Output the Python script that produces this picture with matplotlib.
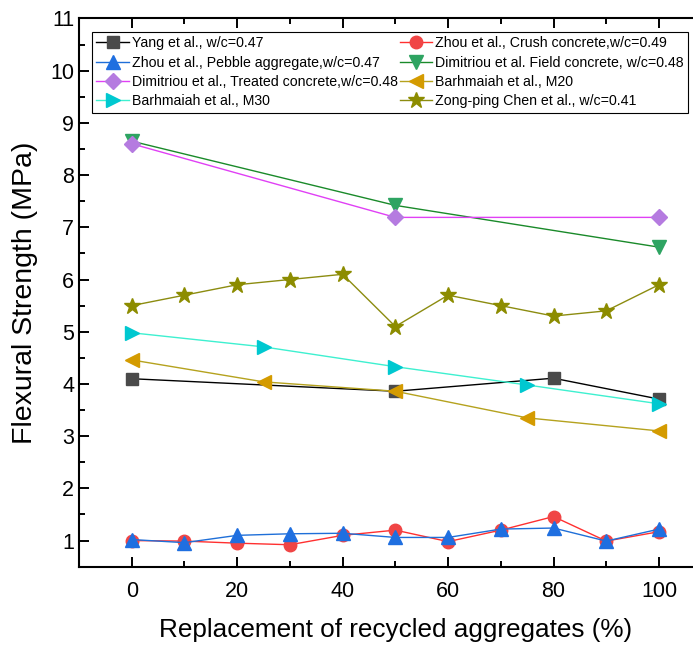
import matplotlib
matplotlib.use("Agg")
import matplotlib.pyplot as plt
from matplotlib.ticker import MultipleLocator

plt.rcParams['font.family'] = ['Liberation Sans', 'DejaVu Sans']

# flexural strength vs replacement ratio, one list per source
x_yang = [0, 50, 80, 100]
y_yang = [4.10, 3.86, 4.11, 3.71]

x_zhou = [0, 10, 20, 30, 40, 50, 60, 70, 80, 90, 100]
y_zhou_crush = [1.0, 0.99, 0.95, 0.92, 1.10, 1.20, 0.98, 1.20, 1.46, 0.99, 1.17]
y_zhou_pebble = [1.02, 0.96, 1.10, 1.13, 1.14, 1.06, 1.06, 1.22, 1.24, 0.99, 1.22]

x_dim = [0, 50, 100]
y_dim_field = [8.65, 7.42, 6.62]
y_dim_treated = [8.60, 7.19, 7.19]

x_barh = [0, 25, 50, 75, 100]
y_barh_m20 = [4.46, 4.04, 3.86, 3.35, 3.10]
y_barh_m30 = [4.98, 4.71, 4.33, 3.98, 3.62]

x_chen = [0, 10, 20, 30, 40, 50, 60, 70, 80, 90, 100]
y_chen = [5.5, 5.7, 5.9, 6.0, 6.1, 5.1, 5.7, 5.5, 5.3, 5.4, 5.9]

fig = plt.figure(figsize=(6.93, 6.48), dpi=100)
ax = fig.add_axes([0.114, 0.1255, 0.913, 0.846])

ms = 9
lw = 1.0
h = {}
h['yang'], = ax.plot(x_yang, y_yang, '-s', color='black', mfc='#4a4a4a', mec='#4a4a4a',
                     ms=ms, lw=lw, label='Yang et al., w/c=0.47')
h['crush'], = ax.plot(x_zhou, y_zhou_crush, '-o', color='#ff3030', mfc='#f04545', mec='#f04545',
                      ms=ms, lw=lw, label='Zhou et al., Crush concrete,w/c=0.49')
h['pebble'], = ax.plot(x_zhou, y_zhou_pebble, '-^', color='#1f6fd8', mfc='#1f6fe0', mec='#1f6fe0',
                       ms=ms + 1, lw=lw, label='Zhou et al., Pebble aggregate,w/c=0.47')
h['field'], = ax.plot(x_dim, y_dim_field, '-v', color='#1a8a2a', mfc='#2ea462', mec='#2ea462',
                      ms=ms + 1, lw=lw, label='Dimitriou et al. Field concrete, w/c=0.48')
h['treated'], = ax.plot(x_dim, y_dim_treated, '-D', color='#e040f5', mfc='#b57be0', mec='#b57be0',
                        ms=ms - 1, lw=lw, label='Dimitriou et al., Treated concrete,w/c=0.48')
h['m20'], = ax.plot(x_barh, y_barh_m20, '-<', color='#b5a21e', mfc='#d49b00', mec='#d49b00',
                    ms=ms + 1, lw=lw, label='Barhmaiah et al., M20')
h['m30'], = ax.plot(x_barh, y_barh_m30, '->', color='#3ef0d0', mfc='#00c8d0', mec='#00c8d0',
                    ms=ms + 1, lw=lw, label='Barhmaiah et al., M30')
h['chen'], = ax.plot(x_chen, y_chen, '-*', color='#8c8c10', mfc='#8c8c00', mec='#8c8c00',
                     ms=ms + 3, lw=lw, label='Zong-ping Chen et al., w/c=0.41')

ax.set_xlim(-10, 110)
ax.set_ylim(0.5, 11)
ax.xaxis.set_major_locator(MultipleLocator(20))
ax.xaxis.set_minor_locator(MultipleLocator(10))
ax.yaxis.set_major_locator(MultipleLocator(1))
ax.yaxis.set_minor_locator(MultipleLocator(0.5))
ax.tick_params(which='both', direction='in', top=True, right=False, width=1.4, labelsize=15.5)
ax.tick_params(which='major', length=7)
ax.tick_params(which='minor', length=4)
ax.tick_params(axis='x', pad=10)
for s in ax.spines.values():
    s.set_linewidth(1.5)
ax.spines['right'].set_visible(False)

ax.set_xlabel('Replacement of recycled aggregates (%)', fontsize=18.8, labelpad=12)
ax.set_ylabel('Flexural Strength (MPa)', fontsize=20.5, labelpad=9)

order = ['yang', 'pebble', 'treated', 'm30', 'crush', 'field', 'm20', 'chen']
leg = ax.legend([h[k] for k in order], [h[k].get_label() for k in order],
                ncol=2, loc='upper left', bbox_to_anchor=(92 / 693, 1 - 32 / 648),
                bbox_transform=fig.transFigure, fontsize=10.2, frameon=True, fancybox=False,
                edgecolor='black', framealpha=1, borderaxespad=0, handlelength=2.3,
                handletextpad=0.2, columnspacing=0.15, labelspacing=0.38, borderpad=0.3,
                markerscale=1.0)
leg.get_frame().set_linewidth(0.8)

fig.savefig('out.png', dpi=100)
